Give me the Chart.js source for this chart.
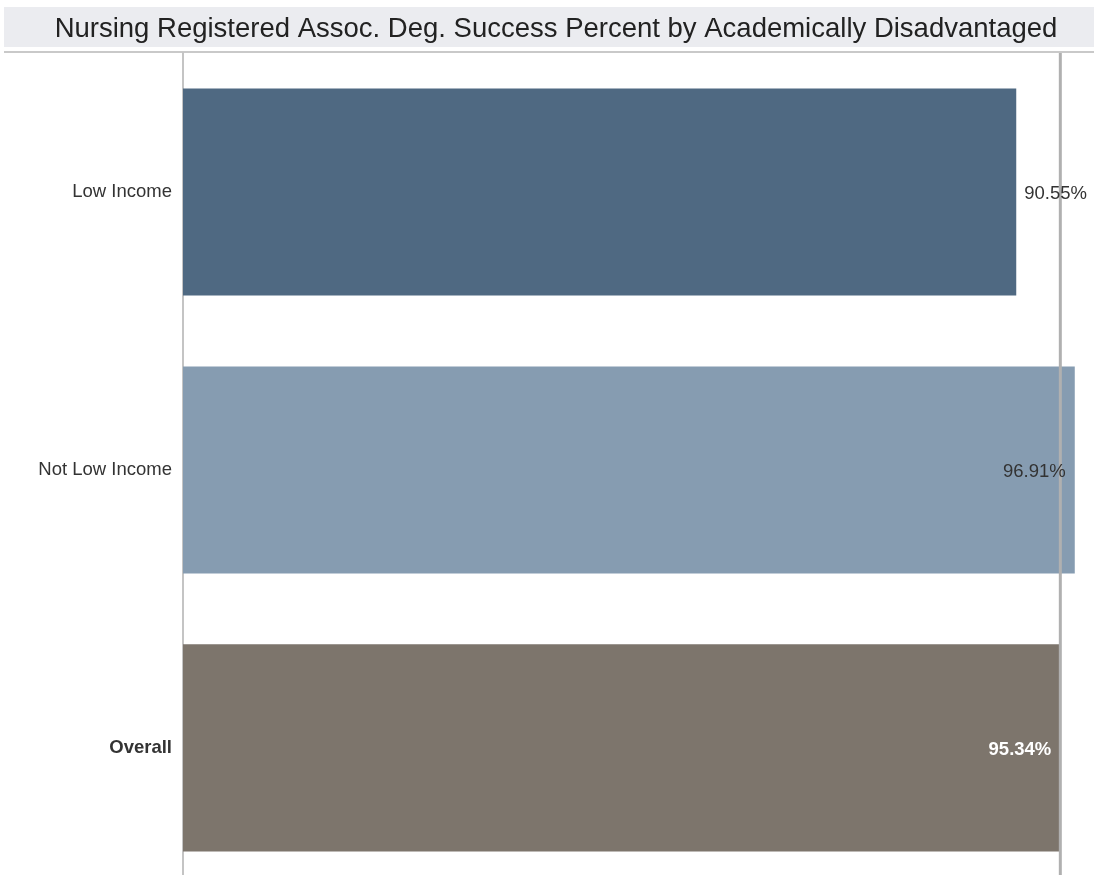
<!DOCTYPE html>
<html>
<head>
<meta charset="utf-8">
<script src="https://cdn.jsdelivr.net/npm/chart.js@4/dist/chart.umd.min.js"></script>
<style>
html,body{margin:0;padding:0;overflow:hidden;background:#fff;}
#wrap{width:1094px;height:909px;position:relative;}
</style>
</head>
<body>
<div id="wrap"><canvas id="c"></canvas></div>
<script>
const chartTitle = 'Nursing Registered Assoc. Deg. Success Percent by Academically Disadvantaged';
const categories = ['Low Income', 'Not Low Income', 'Overall'];
const successPercent = [90.55, 96.91, 95.34];
const barColors = ['#4f6982', '#869cb1', '#7d756c'];
const referenceValue = 95.34;

const decorPlugin = {
  id: 'decor',
  beforeDraw(chart) {
    const ctx = chart.ctx;
    ctx.save();
    ctx.fillStyle = '#ebecf0';
    ctx.fillRect(4, 7, 1090, 40);
    ctx.fillStyle = '#c9c9c9';
    ctx.fillRect(4, 51, 1090, 2);
    ctx.restore();
  },
  afterDatasetsDraw(chart) {
    const ctx = chart.ctx;
    const xs = chart.scales.x;
    const area = chart.chartArea;
    ctx.save();
    const rx = xs.getPixelForValue(referenceValue);
    ctx.fillStyle = '#b0b0b0';
    ctx.fillRect(rx - 1.5, area.top, 3, chart.height - area.top);
    ctx.textBaseline = 'middle';
    const meta = chart.getDatasetMeta(0);
    successPercent.forEach((v, i) => {
      const bar = meta.data[i];
      const x = xs.getPixelForValue(v);
      const y = bar.y + 2;
      const txt = v.toFixed(2) + '%';
      ctx.font = '18.5px "Liberation Sans", Arial, sans-serif';
      if (i === 0) {
        ctx.fillStyle = '#333333';
        ctx.textAlign = 'left';
        ctx.fillText(txt, x + 8, y);
      } else if (i === 1) {
        ctx.fillStyle = '#333333';
        ctx.textAlign = 'right';
        ctx.fillText(txt, x - 9, y);
      } else {
        ctx.font = 'bold 18.5px "Liberation Sans", Arial, sans-serif';
        ctx.fillStyle = '#ffffff';
        ctx.textAlign = 'right';
        ctx.fillText(txt, x - 9, y);
      }
    });
    ctx.restore();
  }
};

new Chart(document.getElementById('c'), {
  type: 'bar',
  data: {
    labels: categories,
    datasets: [{
      data: successPercent,
      backgroundColor: barColors,
      borderWidth: 0,
      categoryPercentage: 1,
      barPercentage: 0.745
    }]
  },
  options: {
    indexAxis: 'y',
    responsive: true,
    maintainAspectRatio: false,
    animation: false,
    layout: { padding: { left: 18 } },
    plugins: {
      legend: { display: false },
      tooltip: { enabled: false },
      title: {
        display: true,
        text: chartTitle,
        color: '#222222',
        font: { family: '"Liberation Sans", Arial, sans-serif', size: 27.5, weight: 'normal', lineHeight: 1.2 },
        padding: { top: 12.5, bottom: 7.5 }
      }
    },
    scales: {
      x: { display: false, min: 0, max: 99 },
      y: {
        afterFit(s) { s.width = 165; },
        grid: { display: false, drawTicks: false },
        border: { display: true, color: '#c4c4c4', width: 2 },
        ticks: {
          padding: 11,
          color: '#333333',
          font: (ctx) => ({ family: '"Liberation Sans", Arial, sans-serif', size: 18.5, weight: ctx.index === 2 ? 'bold' : 'normal' })
        }
      }
    }
  },
  plugins: [decorPlugin]
});
</script>
</body>
</html>
